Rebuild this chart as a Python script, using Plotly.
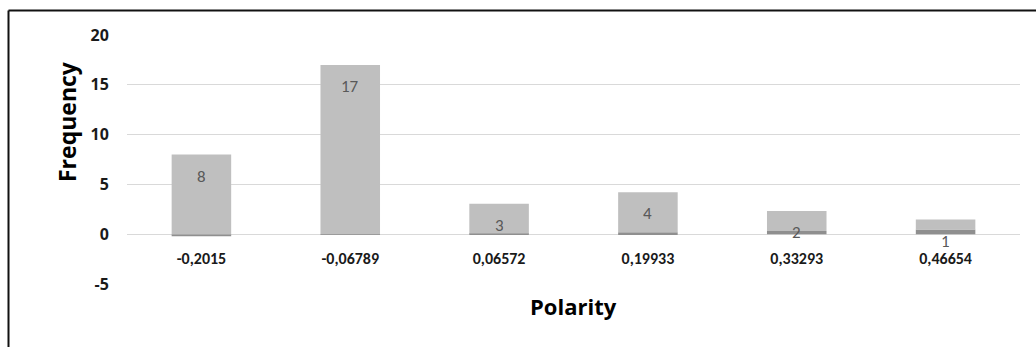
import plotly.graph_objects as go

# Histogram of polarity bins (Excel-style stacked columns)
bins = ["-0,2015", "-0,06789", "0,06572", "0,19933", "0,33293", "0,46654"]
polarity = [-0.2015, -0.06789, 0.06572, 0.19933, 0.33293, 0.46654]
frequency = [8, 17, 3, 4, 2, 1]

y_ticks = [-5, 0, 5, 10, 15, 20]
y_tick_text = ["-5", "0", "5", "10", "15", "20"]

W, H = 1036, 347
ML, MR, MT, MB = 127, 16, 35, 63
plot_w = W - ML - MR
plot_h = H - MT - MB

fig = go.Figure()
fig.add_trace(go.Bar(x=bins, y=polarity, marker=dict(color="#8f8f8f", line=dict(width=0)),
                     width=0.4, name="Polarity", hoverinfo="skip"))
fig.add_trace(go.Bar(x=bins, y=frequency, marker=dict(color="#bfbfbf", line=dict(width=0)),
                     width=0.4, name="Frequency"))

# value labels near the top of each stacked frequency segment
for b, p, f in zip(bins, polarity, frequency):
    top = f + max(p, 0)
    fig.add_annotation(x=b, y=top, text=str(f), showarrow=False, yshift=-21, height=16,
                       font=dict(family="Carlito, Liberation Sans, Open Sans", size=17, color="#595959"))


def px_x(v):
    return (v - ML) / plot_w


def px_y(v):
    return (H - MB - v) / plot_h


# y-axis title
fig.add_annotation(xref="paper", yref="paper", x=px_x(67), y=px_y(122),
                   xanchor="center", yanchor="middle",
                   text="Frequency", textangle=-90, showarrow=False,
                   font=dict(family="Open Sans", size=23, color="#000000", weight="bold"))
# x-axis title
fig.add_annotation(xref="paper", yref="paper", x=0.5, y=px_y(306),
                   xanchor="center", yanchor="middle",
                   text="Polarity", showarrow=False,
                   font=dict(family="Open Sans", size=22, color="#000000", weight="bold"))

# frame lines (left and top)
fig.add_shape(type="line", xref="paper", yref="paper", x0=px_x(8.5), x1=px_x(8.5),
              y0=px_y(10.5), y1=px_y(H + 2), line=dict(color="#111111", width=2))
fig.add_shape(type="line", xref="paper", yref="paper", x0=px_x(8.5), x1=px_x(W + 2),
              y0=px_y(10.5), y1=px_y(10.5), line=dict(color="#111111", width=2))

fig.update_layout(
    width=W, height=H,
    margin=dict(l=ML, r=MR, t=MT, b=MB),
    barmode="relative",
    bargap=0.6,
    showlegend=False,
    plot_bgcolor="white", paper_bgcolor="white",
    xaxis=dict(type="category", categoryorder="array", categoryarray=bins,
               showgrid=False, showline=False, zeroline=False,
               anchor="free", position=5 / 25,
               ticks="outside", ticklen=10, tickcolor="rgba(0,0,0,0)",
               tickfont=dict(family="Carlito, Liberation Sans Narrow, Open Sans", size=16,
                             color="#1a1a1a", weight="bold")),
    yaxis=dict(range=[-5, 20], tickvals=y_ticks, ticktext=y_tick_text,
               showgrid=True, gridcolor="#d9d9d9", gridwidth=1,
               zeroline=True, zerolinecolor="#d9d9d9", zerolinewidth=1, showline=False,
               ticks="outside", ticklen=14, tickcolor="rgba(0,0,0,0)",
               tickfont=dict(family="Open Sans", size=16, color="#1a1a1a", weight="bold")),
)

fig.write_html("out.html")
